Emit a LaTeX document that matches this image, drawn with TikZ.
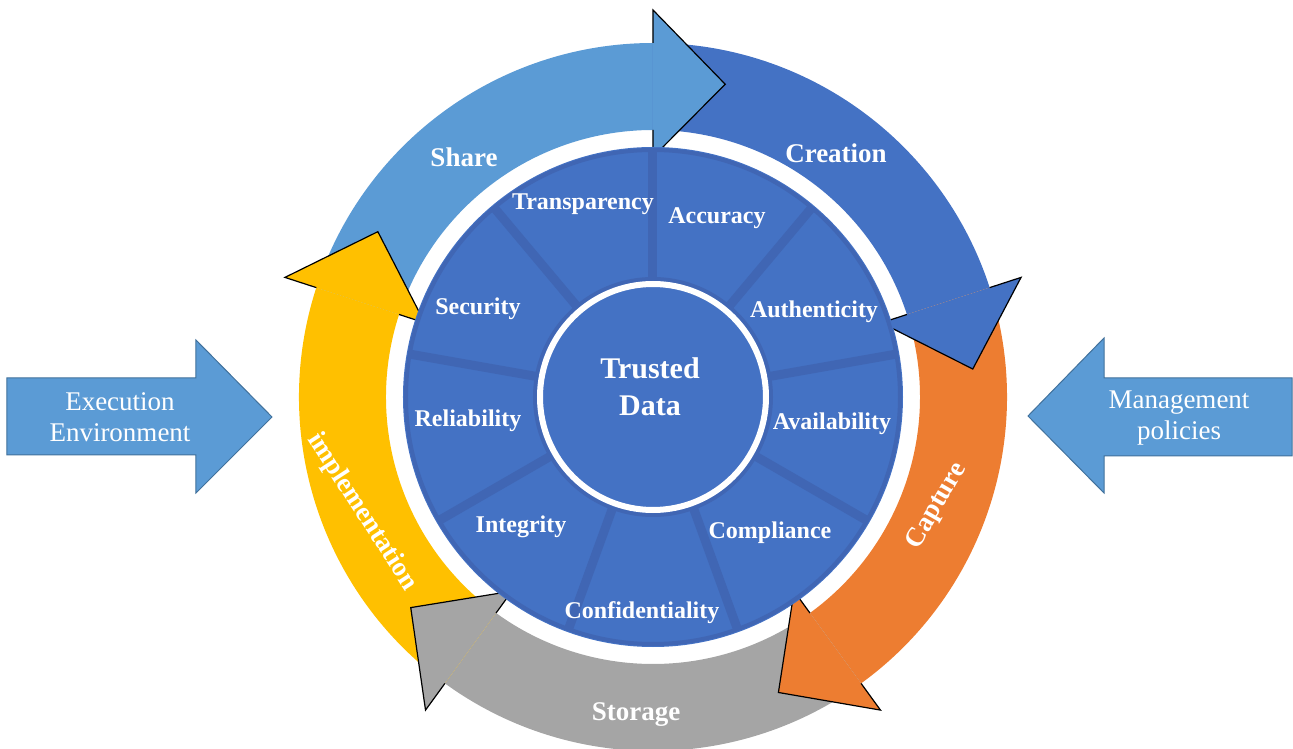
\documentclass[tikz,border=0pt]{standalone}
\usepackage{fontspec}
\setmainfont{Liberation Serif}
\usepackage{tikz}

\definecolor{shareblue}{HTML}{5B9BD5}
\definecolor{ringblue}{HTML}{4472C4}
\definecolor{captureorange}{HTML}{ED7D31}
\definecolor{storagegray}{HTML}{A5A5A5}
\definecolor{implyellow}{HTML}{FFC000}
\definecolor{seamblue}{HTML}{4066B4}
\definecolor{sideline}{HTML}{41719C}

\begin{document}
\begin{tikzpicture}[x=1pt,y=1pt,line join=miter]
	\tikzstyle{every node}=[text=white,inner sep=0pt]
	\tikzstyle{prop}=[font=\fontsize{24}{28}\selectfont\bfseries]
	\tikzstyle{stage}=[font=\fontsize{27}{32}\selectfont\bfseries]
	\tikzstyle{side}=[font=\fontsize{27}{31}\selectfont,align=center]
	\tikzstyle{headline}=[draw=black,line width=1.2pt]
	\tikzstyle{sidearrow}=[fill=shareblue,draw=sideline,line width=1pt]

	\useasboundingbox (-653,-352) rectangle (640,397);

	% ring of the five stages, bodies first
	\foreach \b/\s/\c in {90/162/shareblue,18/90/ringblue,-54/18/captureorange,-126/-54/storagegray,-198/-126/implyellow}
		\fill[\c] (\s:354) arc[start angle=\s,end angle=\b,radius=354] -- (\b:267) arc[start angle=\b,end angle=\s,radius=267] -- cycle;
	\foreach \b/\c in {90/shareblue,18/ringblue,-54/captureorange,-126/storagegray,-198/implyellow}
	{
		\fill[\c] (\b:387) -- (\b-13:321) -- (\b:240) -- cycle;
		\draw[headline] (\b:354) -- (\b:387) -- (\b-13:321) -- (\b:240) -- (\b:267);
	}

	% inner disk
	\fill[ringblue] (0,0) circle[radius=250];
	\draw[seamblue,line width=4pt] (0,0) circle[radius=247];
	\foreach \a in {90,50,...,-230}
		\draw[seamblue,line width=9pt] (\a:117) -- (\a:246);
	\draw[seamblue,line width=4pt] (0,0) circle[radius=118];
	\draw[white,line width=6pt,fill=ringblue] (0,0) circle[radius=113];

	\node[font=\fontsize{30}{37}\selectfont\bfseries,align=center] (core) at (-3,10) {Trusted\\Data};

	\node[prop] (transp)  at (-70,193)  {Transparency};
	\node[prop] (accur)   at (64,179)   {Accuracy};
	\node[prop] (authent) at (161,85)   {Authenticity};
	\node[prop] (avail)   at (179,-27)  {Availability};
	\node[prop] (compl)   at (117,-136) {Compliance};
	\node[prop] (confid)  at (-11,-216) {Confidentiality};
	\node[prop] (integ)   at (-132,-130) {Integrity};
	\node[prop] (reliab)  at (-185,-24) {Reliability};
	\node[prop] (secur)   at (-175,88)  {Security};

	\node[stage] (share)    at (-189,240) {Share};
	\node[stage] (creation) at (183,244)  {Creation};
	\node[stage,rotate=60]  (capture) at (284,-109) {Capture};
	\node[stage] (storage)  at (-17,-318) {Storage};
	\node[stage,rotate=-57] (impl)    at (-291,-115) {implementation};

	% side inputs
	\draw[sidearrow] (-646,19) -- (-457,19) -- (-457,57) -- (-381,-20) -- (-457,-96) -- (-457,-58) -- (-646,-58) -- cycle;
	\node[side] (exec) at (-533,-20) {Execution\\Environment};
	\draw[sidearrow] (639,19) -- (451,19) -- (451,59) -- (375,-19) -- (451,-96) -- (451,-59) -- (639,-59) -- cycle;
	\node[side] (mgmt) at (526,-21) {Management\\policies};
	% \draw[dashed] (core) -- (share);
\end{tikzpicture}
\end{document}
